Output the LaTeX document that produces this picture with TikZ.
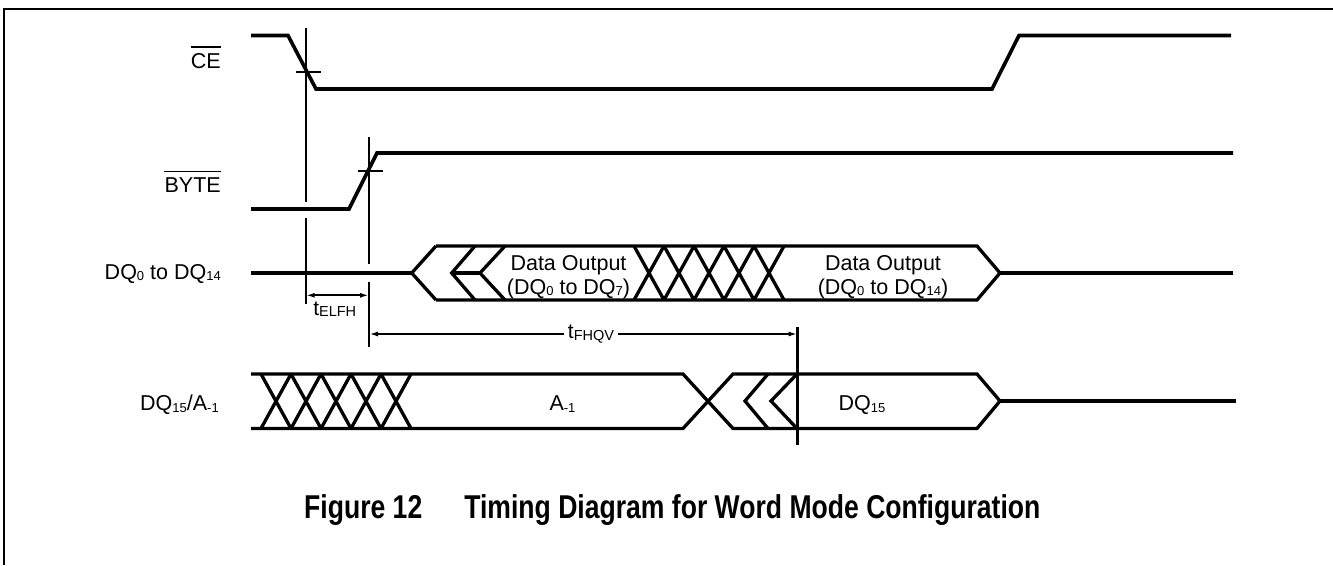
\documentclass[tikz,border=0pt]{standalone}
\usepackage{fontspec}
\setmainfont{Liberation Sans}
\newfontfamily\titlefont[FakeStretch=0.805]{Liberation Sans}
\usetikzlibrary{arrows.meta}
\newcommand{\sbs}[1]{\raisebox{-1.5pt}{\fontsize{13}{13}\selectfont #1}}
\newcommand{\tsb}[1]{\raisebox{-1.5pt}{\fontsize{14.5}{14.5}\selectfont #1}}
\begin{document}
\begin{tikzpicture}[x=1pt,y=-1pt,
  sig/.style={line width=3.6pt, line join=miter},
  bus/.style={line width=3.3pt, line join=miter},
  cur/.style={line width=2.2pt},
  frm/.style={line width=2pt},
  dim/.style={line width=1.8pt},
  lbl/.style={inner sep=0pt, font=\fontsize{21.5}{24}\selectfont},
  tl/.style={inner sep=0pt, font=\fontsize{21}{22}\selectfont},
  ovl/.style={line width=1.6pt},
  tip/.tip={Latex[length=9pt,width=5pt]}]
\useasboundingbox (0,0) rectangle (1333,565);
\draw[frm] (4,565) -- (4,9) -- (1333,9);

% signal labels
\node[lbl, anchor=base east] (ce) at (221,68.5) {CE};
\draw[ovl] ([yshift=6pt]ce.north west) -- ([yshift=6pt]ce.north east);
\node[lbl, anchor=base east] (byte) at (221,192.5) {BYTE};
\draw[ovl] ([yshift=6pt]byte.north west) -- ([yshift=6pt]byte.north east);
\node[lbl, anchor=base east] (dq) at (221,279) {DQ\sbs{0} to DQ\sbs{14}};
\node[lbl, anchor=base east] (dqa) at (219,410.5) {DQ\sbs{15}/A\sbs{-1}};

% CE
\draw[sig] (251,35.5) -- (288,35.5) -- (316,89) -- (992,89) -- (1019,35.5) -- (1231,35.5);
% BYTE
\draw[sig] (251,209) -- (349,209) -- (377,153) -- (1233,153);

% DQ0 to DQ14
\draw[sig] (251,273) -- (411.7,273);
\draw[bus] (436,246) -- (411.7,273) -- (436,300);
\draw[bus] (475,246) -- (451.7,273) -- (475,300);
\draw[bus] (505,246) -- (480,273) -- (505,300);
\draw[bus] (451.7,273) -- (480,273);
\draw[bus] (436,246) -- (977,246) -- (1000,273) -- (977,300) -- (436,300);
\foreach \i in {0,...,4}{
  \draw[bus] ({634+30*\i},246) -- ({664+30*\i},300);
  \draw[bus] ({634+30*\i},300) -- ({664+30*\i},246);
}
\draw[sig] (1000,273) -- (1233,273);
\node[lbl, align=center] (d1) at (568.5,277) {Data Output\\(DQ\sbs{0} to DQ\sbs{7})};
\node[lbl, align=center] (d2) at (883,277) {Data Output\\(DQ\sbs{0} to DQ\sbs{14})};

% DQ15/A-1
\draw[bus] (251,374) -- (683,374) -- (733,428.5) -- (977,428.5) -- (1000,401) -- (977,374) -- (733,374) -- (683,428.5) -- (251,428.5);
\foreach \i in {0,...,4}{
  \draw[bus] ({261+30*\i},374) -- ({291+30*\i},428.5);
  \draw[bus] ({261+30*\i},428.5) -- ({291+30*\i},374);
}
\draw[bus] (768,374) -- (745,401) -- (768,428.5);
\draw[bus] (797,374) -- (771,401) -- (797,428.5);
\draw[sig] (1000,401) -- (1236,401);
\node[lbl, anchor=base] (a1) at (562.5,410.5) {A\sbs{-1}};
\node[lbl, anchor=base] (d15) at (862,410.5) {DQ\sbs{15}};

% cursors
\coordinate (c1t) at (305.7,28);
\coordinate (c1b) at (305.7,304);
\coordinate (c2t) at (369,137);
\coordinate (c2b) at (369,347);
\coordinate (c3t) at (797.5,327);
\coordinate (c3b) at (797.5,445);
\draw[cur] (c1t) -- (305.7,202);
\draw[cur] (305.7,218) -- (c1b);
\draw[cur] (296,71.7) -- (320.7,71.7);
\draw[cur] (c2t) -- (369,264);
\draw[cur] (369,282) -- (c2b);
\draw[cur] (358,171) -- (383,171);
\draw[cur] (c3t) -- (c3b);

% timing arrows
\coordinate (e1) at (305.7,295.3);
\coordinate (e2) at (369,295.3);
\coordinate (f1) at (369,334);
\coordinate (f2) at (797.5,334);
\draw[dim, tip-tip] (e1) -- (e2);
\node[tl, anchor=base] (telfh) at (334.7,315) {t\tsb{ELFH}};
\draw[dim, tip-tip] (f1) -- (f2);
\node[tl, fill=white, inner xsep=4pt, inner ysep=2pt] (tfhqv) at (591,334) {t\tsb{FHQV}};

% title
\node[inner sep=0pt, anchor=base west, font=\titlefont\bfseries\fontsize{33}{36}\selectfont] (title) at (304,518) {Figure 12\hspace{42pt}Timing Diagram for Word Mode Configuration};
\end{tikzpicture}
\end{document}
